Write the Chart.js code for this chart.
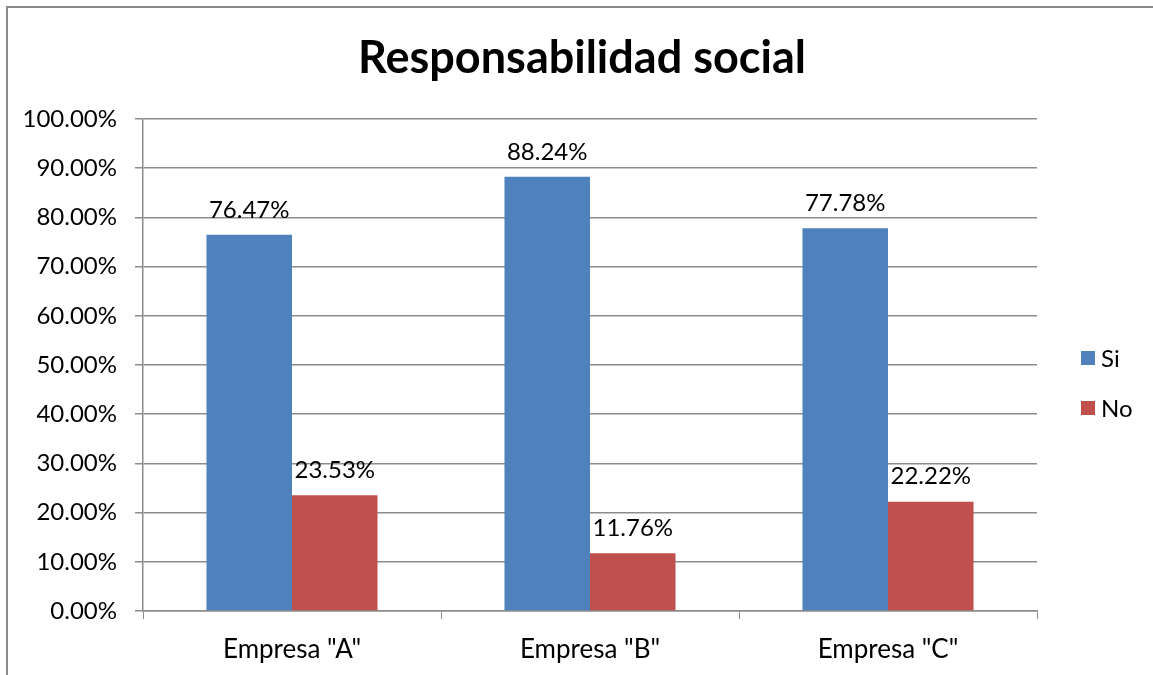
<!DOCTYPE html>
<html>
<head>
<meta charset="utf-8">
<script src="https://cdn.jsdelivr.net/npm/chart.js@4.4.1/dist/chart.umd.min.js"></script>
<style>
  body { margin: 0; background: #fff; }
  #wrap { position: absolute; left: 0; top: 0; width: 1153px; height: 675px; }
</style>
</head>
<body>
<div id="wrap"><canvas id="barChart" width="1153" height="675"></canvas></div>
<script>
var categories = ['Empresa "A"', 'Empresa "B"', 'Empresa "C"'];
var siValues = [76.47, 88.24, 77.78];
var noValues = [23.53, 11.76, 22.22];
var seriesNames = ['Si', 'No'];
var yTicks = [0, 10, 20, 30, 40, 50, 60, 70, 80, 90, 100];
var chartTitle = 'Responsabilidad social';

var FONT = 'Lato, "Open Sans", sans-serif';
var GRID = '#8c8c8c';

// outer frame (left + top edge visible) and the title
var framePlugin = {
  id: 'frame',
  beforeDraw: function (chart) {
    var ctx = chart.ctx;
    ctx.save();
    ctx.strokeStyle = '#8a8a8a';
    ctx.lineWidth = 2;
    ctx.beginPath();
    ctx.moveTo(7, 675);
    ctx.lineTo(7, 7);
    ctx.lineTo(1153, 7);
    ctx.stroke();

    ctx.font = 'bold 45px ' + FONT;
    ctx.fillStyle = '#000';
    ctx.textAlign = 'center';
    ctx.textBaseline = 'middle';
    ctx.fillText(chartTitle, 582, 58);
    ctx.restore();
  }
};

// value labels above bars
var dataLabels = {
  id: 'dataLabels',
  afterDatasetsDraw: function (chart) {
    var ctx = chart.ctx;
    ctx.save();
    ctx.font = '24px ' + FONT;
    ctx.fillStyle = '#000';
    ctx.textAlign = 'center';
    ctx.textBaseline = 'bottom';
    chart.data.datasets.forEach(function (ds, i) {
      chart.getDatasetMeta(i).data.forEach(function (bar, j) {
        ctx.fillText(ds.data[j].toFixed(2) + '%', bar.x, bar.y - 13);
      });
    });
    ctx.restore();
  }
};

// legend on the right
var sideLegend = {
  id: 'sideLegend',
  afterDraw: function (chart) {
    var ctx = chart.ctx;
    ctx.save();
    ctx.font = '24px ' + FONT;
    ctx.textBaseline = 'middle';
    chart.data.datasets.forEach(function (ds, i) {
      var cy = 358 + i * 50;
      ctx.fillStyle = ds.backgroundColor;
      ctx.fillRect(1081, cy - 7, 14, 14);
      ctx.fillStyle = '#000';
      ctx.fillText(ds.label, 1101, cy + 1);
    });
    ctx.restore();
  }
};

var barData = {
  labels: categories,
  datasets: [{
    label: seriesNames[0],
    data: siValues,
    backgroundColor: '#4F81BD'
  }, {
    label: seriesNames[1],
    data: noValues,
    backgroundColor: '#C0504D'
  }]
};

var myBarChart = new Chart(document.getElementById('barChart'), {
  type: 'bar',
  data: barData,
  plugins: [framePlugin, dataLabels, sideLegend],
  options: {
    responsive: false,
    animation: false,
    layout: { padding: { left: 0, right: 116, top: 119, bottom: 0 } },
    datasets: {
      bar: { categoryPercentage: 0.574, barPercentage: 1.0 }
    },
    plugins: {
      legend: { display: false },
      tooltip: { enabled: false },
      title: { display: false }
    },
    scales: {
      x: {
        afterFit: function (s) { s.height = 64; },
        grid: { drawOnChartArea: false, drawTicks: true, tickLength: 8, color: GRID, offset: true },
        border: { color: GRID, width: 1.5 },
        ticks: { color: '#000', font: { family: FONT, size: 26 }, padding: 15 }
      },
      y: {
        min: 0,
        max: 100,
        afterFit: function (s) { s.width = 143; },
        afterBuildTicks: function (s) { s.ticks = yTicks.map(function (v) { return { value: v }; }); },
        grid: { color: GRID, lineWidth: 1.5, tickLength: 8 },
        border: { color: GRID, width: 1.5 },
        ticks: {
          color: '#000',
          font: { family: FONT, size: 24 },
          padding: 18,
          callback: function (v) { return v.toFixed(2) + '%'; }
        }
      }
    }
  }
});
</script>
</body>
</html>
